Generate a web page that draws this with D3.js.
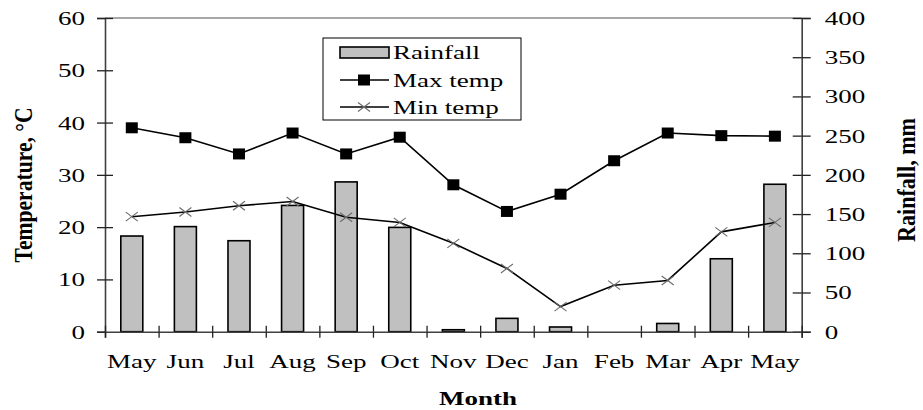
<!DOCTYPE html>
<html>
<head>
<meta charset="utf-8">
<script src="https://cdn.jsdelivr.net/npm/d3@7"></script>
<style>
  body { margin: 0; background: #fff; }
  svg text { font-family: "Liberation Serif", "Times New Roman", serif; fill: #000; }
</style>
</head>
<body>
<svg id="chart" width="923" height="410"></svg>
<script>
// data
var months = ["May","Jun","Jul","Aug","Sep","Oct","Nov","Dec","Jan","Feb","Mar","Apr","May"];
var rainfall = [122, 134, 116, 161, 191, 133, 2.5, 17, 6, 0, 10.5, 93, 188];
var maxTemp = [39.0, 37.1, 34.0, 38.0, 34.0, 37.2, 28.1, 23.0, 26.3, 32.7, 38.0, 37.5, 37.4];
var minTemp = [22.0, 22.9, 24.1, 24.9, 21.9, 20.9, 16.9, 12.1, 4.8, 8.9, 9.8, 19.1, 20.9];
var tempTicks = [0, 10, 20, 30, 40, 50, 60];
var rainTicks = [0, 50, 100, 150, 200, 250, 300, 350, 400];

var svg = d3.select("#chart");
var plotL = 105, plotR = 801.7, plotT = 18, plotB = 331.7;
var SX = 1.5; // the picture is stretched sideways

var x = d3.scaleBand().domain(d3.range(months.length)).range([plotL, plotR]);
var xEdge = d3.scaleLinear().domain([0, months.length]).range([plotL, plotR]);
var yT = d3.scaleLinear().domain([0, 60]).range([plotB, plotT]);
var yR = d3.scaleLinear().domain([0, 400]).range([plotB, plotT]);

function stretch(sel) {
  sel.each(function() {
    var w = this.getComputedTextLength();
    d3.select(this).attr("textLength", w * SX).attr("lengthAdjust", "spacingAndGlyphs");
  });
}

// top frame line
svg.append("line").attr("x1", plotL).attr("x2", plotR).attr("y1", plotT).attr("y2", plotT)
  .attr("stroke", "#8a8a8a").attr("stroke-width", 1.5);

// bars
svg.append("g").selectAll("rect").data(rainfall).enter().append("rect")
  .attr("x", function(d, i) { return x(i) + x.bandwidth() / 2 - 11; })
  .attr("width", 22)
  .attr("y", function(d) { return yR(d); })
  .attr("height", function(d) { return plotB - yR(d); })
  .attr("fill", "#c0c0c0").attr("stroke", "#000").attr("stroke-width", 1.6)
  .style("display", function(d) { return d > 0 ? null : "none"; });

// left axis
var gl = svg.append("g").attr("transform", "translate(" + plotL + ",0)");
gl.call(d3.axisLeft(yT).tickValues(tempTicks).tickSize(8).tickPadding(12));
svg.append("g").attr("transform", "translate(" + plotL + ",0)")
  .call(d3.axisRight(yT).tickValues(tempTicks.slice(1)).tickSize(8).tickFormat(""))
  .select(".domain").remove();

// right axis
var gr = svg.append("g").attr("transform", "translate(" + plotR + ",0)");
gr.call(d3.axisRight(yR).tickValues(rainTicks).tickSize(9).tickPadding(14));
svg.append("g").attr("transform", "translate(" + plotR + ",0)")
  .call(d3.axisLeft(yR).tickValues(rainTicks).tickSize(9).tickFormat(""))
  .select(".domain").remove();

// bottom axis
var gb = svg.append("g").attr("transform", "translate(0," + plotB + ")");
gb.call(d3.axisBottom(xEdge).tickValues(d3.range(months.length + 1)).tickSize(6).tickFormat(""));
svg.append("g").attr("transform", "translate(0," + plotB + ")")
  .call(d3.axisTop(xEdge).tickValues(d3.range(months.length + 1)).tickSize(6).tickFormat(""))
  .select(".domain").remove();

svg.selectAll(".domain").attr("stroke", "#404040").attr("stroke-width", 1.6);
svg.selectAll(".tick line").attr("stroke", "#222").attr("stroke-width", 1.3);
svg.selectAll(".tick text").attr("font-size", 18).attr("font-family", "Liberation Serif").attr("fill", "#1a1a1a");
gl.selectAll(".tick text").attr("dy", "0.36em");
gr.selectAll(".tick text").attr("dy", "0.36em");
gl.selectAll(".tick text").call(stretch);
gr.selectAll(".tick text").call(stretch);

// month labels
svg.append("g").selectAll("text").data(months).enter().append("text")
  .attr("x", function(d, i) { return x(i) + x.bandwidth() / 2; })
  .attr("y", 368).attr("text-anchor", "middle").attr("font-size", 18).attr("fill", "#1a1a1a")
  .text(function(d) { return d; })
  .call(stretch);

// lines
var cx = function(d, i) { return x(i) + x.bandwidth() / 2; };
var lineT = d3.line().x(cx).y(function(d) { return yT(d); });
svg.append("path").datum(maxTemp).attr("d", lineT)
  .attr("fill", "none").attr("stroke", "#000").attr("stroke-width", 1.6);
svg.append("path").datum(minTemp).attr("d", lineT)
  .attr("fill", "none").attr("stroke", "#000").attr("stroke-width", 1.6);

// markers
svg.append("g").selectAll("rect").data(maxTemp).enter().append("rect")
  .attr("x", function(d, i) { return cx(d, i) - 6; })
  .attr("y", function(d) { return yT(d) - 5.5; })
  .attr("width", 12).attr("height", 11).attr("fill", "#000");

var cross = svg.append("g").selectAll("g").data(minTemp).enter().append("g")
  .attr("transform", function(d, i) { return "translate(" + cx(d, i) + "," + yT(d) + ")"; });
cross.append("line").attr("x1", -6).attr("y1", -4.5).attr("x2", 6).attr("y2", 4.5);
cross.append("line").attr("x1", -6).attr("y1", 4.5).attr("x2", 6).attr("y2", -4.5);
cross.selectAll("line").attr("stroke", "#6a6a6a").attr("stroke-width", 1.1);

// legend
var lg = svg.append("g");
lg.append("rect").attr("x", 323).attr("y", 38).attr("width", 198).attr("height", 82)
  .attr("fill", "#fff").attr("stroke", "#000").attr("stroke-width", 1);
lg.append("rect").attr("x", 340).attr("y", 47).attr("width", 49).attr("height", 11)
  .attr("fill", "#c0c0c0").attr("stroke", "#000").attr("stroke-width", 1.6);
lg.append("line").attr("x1", 340).attr("x2", 389).attr("y1", 80).attr("y2", 80)
  .attr("stroke", "#000").attr("stroke-width", 1.6);
lg.append("rect").attr("x", 358).attr("y", 74.5).attr("width", 12).attr("height", 11).attr("fill", "#000");
lg.append("line").attr("x1", 340).attr("x2", 389).attr("y1", 107).attr("y2", 107)
  .attr("stroke", "#000").attr("stroke-width", 1.6);
lg.append("line").attr("x1", 358).attr("y1", 102.5).attr("x2", 370).attr("y2", 111.5)
  .attr("stroke", "#6a6a6a").attr("stroke-width", 1.1);
lg.append("line").attr("x1", 358).attr("y1", 111.5).attr("x2", 370).attr("y2", 102.5)
  .attr("stroke", "#6a6a6a").attr("stroke-width", 1.1);
var legendNames = ["Rainfall", "Max temp", "Min temp"];
var legendY = [59, 87, 114];
lg.selectAll("text.lab").data(legendNames).enter().append("text")
  .attr("x", 393).attr("y", function(d, i) { return legendY[i]; })
  .attr("font-size", 18).text(function(d) { return d; })
  .call(stretch);

// axis titles
svg.append("text").attr("x", 478).attr("y", 405).attr("text-anchor", "middle")
  .attr("font-size", 18).attr("font-weight", "bold").text("Month").call(stretch);

svg.append("g").attr("transform", "translate(24,185) scale(" + SX + ",1) rotate(-90)")
  .append("text").attr("text-anchor", "middle").attr("dy", "0.33em")
  .attr("font-size", 17).attr("font-weight", "bold")
  .attr("textLength", 155).attr("lengthAdjust", "spacingAndGlyphs")
  .text("Temperature, °C");

svg.append("g").attr("transform", "translate(907,180) scale(" + SX + ",1) rotate(-90)")
  .append("text").attr("text-anchor", "middle").attr("dy", "0.33em")
  .attr("font-size", 17).attr("font-weight", "bold")
  .attr("textLength", 124).attr("lengthAdjust", "spacingAndGlyphs")
  .text("Rainfall, mm");
</script>
</body>
</html>
